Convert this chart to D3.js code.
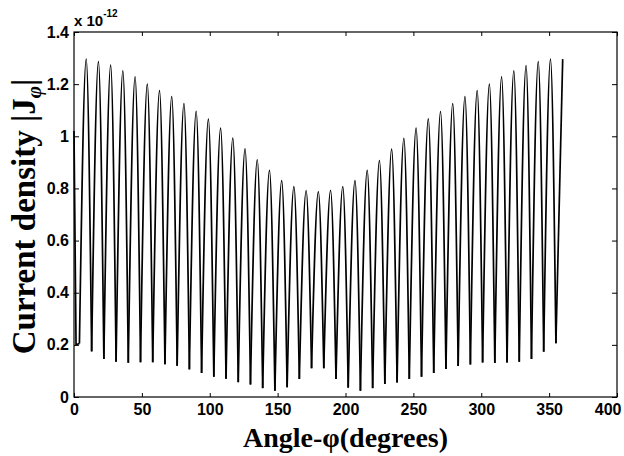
<!DOCTYPE html>
<html>
<head>
<meta charset="utf-8">
<script src="https://cdn.jsdelivr.net/npm/d3@7"></script>
<style>
body { margin: 0; background: #fff; }
svg { display: block; }
.tick text { font-family: "Liberation Sans", Arial, sans-serif; font-weight: bold; font-size: 16px; fill: #000; }
.tick line { stroke: #000; }
.title { font-family: "Liberation Serif", "Times New Roman", serif; font-weight: bold; fill: #000; }
.expo { font-family: "Liberation Sans", Arial, sans-serif; font-weight: bold; fill: #000; }
</style>
</head>
<body>
<svg width="624" height="456"></svg>
<script>
// angle in degrees, |J| in units of 1e-12
var leadAngles   = [0, 1.5];
var leadValues   = [1.02, 0.20];

var troughAngles = [4, 13, 22, 31, 40, 49, 58, 67, 76, 85,
                    94, 103, 112, 121, 130, 139, 148, 157, 166, 175,
                    184, 193, 202, 211, 220, 229, 238, 247, 256, 265,
                    274, 283, 292, 301, 310, 319, 328, 337, 346, 355];
var troughValues = [0.205, 0.175, 0.146, 0.135, 0.131, 0.133, 0.133, 0.126, 0.120, 0.106,
                    0.092, 0.078, 0.070, 0.057, 0.048, 0.034, 0.024, 0.037, 0.069, 0.110,
                    0.110, 0.069, 0.036, 0.024, 0.034, 0.050, 0.056, 0.069, 0.078, 0.092,
                    0.107, 0.119, 0.125, 0.132, 0.130, 0.132, 0.135, 0.146, 0.174, 0.206];

var peakAngles   = [9, 18, 27, 36, 45, 54, 63, 72, 81, 90,
                    99, 108, 117, 126, 135, 144, 153, 162, 171, 180,
                    189, 198, 207, 216, 225, 234, 243, 252, 261, 270,
                    279, 288, 297, 306, 315, 324, 333, 342, 351, 360];
var peakValues   = [1.296, 1.286, 1.273, 1.251, 1.228, 1.200, 1.175, 1.152, 1.125, 1.096,
                    1.066, 1.031, 0.993, 0.952, 0.910, 0.869, 0.830, 0.807, 0.792, 0.788,
                    0.793, 0.807, 0.830, 0.869, 0.907, 0.951, 0.992, 1.031, 1.067, 1.095,
                    1.125, 1.152, 1.175, 1.200, 1.228, 1.251, 1.271, 1.286, 1.296, 1.296];

var xTicks       = [0, 50, 100, 150, 200, 250, 300, 350, 400];
var yTicks       = [0, 0.2, 0.4, 0.6, 0.8, 1, 1.2, 1.4];

var plotLeft   = 74,
    plotRight  = 617,
    plotTop    = 32,
    plotBottom = 397;

var svg = d3.select('svg');

var x = d3.scaleLinear().domain([0, 400]).range([plotLeft, plotRight]);
var y = d3.scaleLinear().domain([0, 1.4]).range([plotBottom, plotTop]);

// axes with inward ticks
var xAxisG = svg.append('g')
    .attr('transform', 'translate(0,' + plotBottom + ')')
    .call(d3.axisBottom(x).tickValues(xTicks).tickSize(-4).tickPadding(7).tickFormat(d3.format('d')))
    .call(function(g){ g.select('.domain').remove(); });

// last label sits against the right edge, as in the original figure
xAxisG.selectAll('.tick').filter(function(d){ return d === 400; })
    .select('text').attr('text-anchor', 'end').attr('x', 4);

svg.append('g')
    .attr('transform', 'translate(0,' + plotTop + ')')
    .call(d3.axisTop(x).tickValues(xTicks).tickSize(-4).tickFormat(''))
    .call(function(g){ g.select('.domain').remove(); });

svg.append('g')
    .attr('transform', 'translate(' + plotLeft + ',0)')
    .call(d3.axisLeft(y).tickValues(yTicks).tickSize(-5).tickPadding(5).tickFormat(d3.format('~g')))
    .call(function(g){ g.select('.domain').remove(); });

svg.append('g')
    .attr('transform', 'translate(' + plotRight + ',0)')
    .call(d3.axisRight(y).tickValues(yTicks).tickSize(-5).tickFormat(''))
    .call(function(g){ g.select('.domain').remove(); });

svg.selectAll('g').filter(function(){ return this.hasAttribute('font-size'); })
    .attr('font-size', null).attr('font-family', null);

svg.append('rect')
    .attr('x', plotLeft).attr('y', plotTop)
    .attr('width', plotRight - plotLeft).attr('height', plotBottom - plotTop)
    .attr('fill', 'none').attr('stroke', '#000').attr('stroke-width', 1.2);

// curve: each hump is trough -> peak -> next trough
var line = d3.line()
    .x(function(d){ return x(d[0]); })
    .y(function(d){ return y(d[1]); })
    .curve(d3.curveMonotoneX);

var lead = leadAngles.map(function(a, i){ return [a, leadValues[i]]; });
lead.push([troughAngles[0], troughValues[0]]);

var humps = peakAngles.map(function(a, i){
    var seg = [[troughAngles[i], troughValues[i]], [a, peakValues[i]]];
    if (i + 1 < troughAngles.length) seg.push([troughAngles[i + 1], troughValues[i + 1]]);
    return seg;
});

var plot = svg.append('g').attr('fill', 'none').attr('stroke', '#000').attr('stroke-width', 1.7);

plot.append('path').attr('d', d3.line().x(function(d){ return x(d[0]); }).y(function(d){ return y(d[1]); })(lead));

plot.selectAll('path.hump')
    .data(humps)
    .enter()
    .append('path')
    .attr('class', 'hump')
    .attr('d', line);

// exponent
var ex = svg.append('text').attr('class', 'expo').attr('x', plotLeft).attr('y', 26).attr('font-size', 15);
ex.append('tspan').text('x 10');
ex.append('tspan').attr('dy', -9).attr('font-size', 10).text('-12');

// titles
svg.append('text')
    .attr('class', 'title')
    .attr('font-size', 28)
    .attr('x', (plotLeft + plotRight) / 2)
    .attr('y', 447)
    .attr('text-anchor', 'middle')
    .text('Angle-φ(degrees)');

var yt = svg.append('text')
    .attr('class', 'title')
    .attr('font-size', 33)
    .attr('transform', 'translate(35,' + ((plotTop + plotBottom) / 2 + 2) + ') rotate(-90)')
    .attr('text-anchor', 'middle');
yt.append('tspan').text('Current density |J');
yt.append('tspan').attr('dy', 6).attr('font-size', 21).attr('font-style', 'italic').text('φ');
yt.append('tspan').attr('dy', -6).text('|');
</script>
</body>
</html>
